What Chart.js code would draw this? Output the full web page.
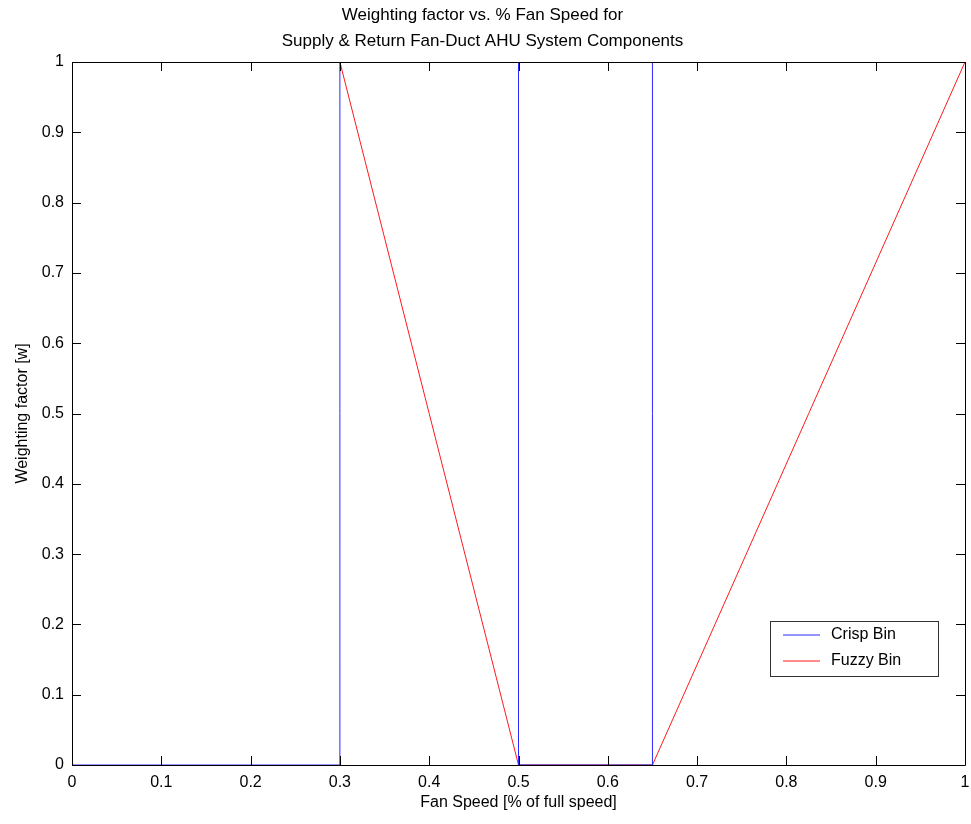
<!DOCTYPE html>
<html>
<head>
<meta charset="utf-8">
<script src="https://cdn.jsdelivr.net/npm/chart.js@4/dist/chart.umd.min.js"></script>
<style>
  html, body { margin: 0; padding: 0; background: #fff; }
  #wrap { width: 971px; height: 824px; }
</style>
</head>
<body>
<div id="wrap"><canvas id="fanChart" width="971" height="824"></canvas></div>
<script>
// Fan speed break points and weights for each bin type
const crispSpeed = [0, 0.3, 0.3, 0.5, 0.5, 0.65, 0.65, 1];
const crispWeight = [0, 0, 1, 1, 0, 0, 1, 1];
const fuzzySpeed = [0.3, 0.5, 0.65, 1];
const fuzzyWeight = [1, 0, 0, 1];
const tickValues = [0, 0.1, 0.2, 0.3, 0.4, 0.5, 0.6, 0.7, 0.8, 0.9, 1];
const seriesNames = ["Crisp Bin", "Fuzzy Bin"];
const seriesColors = ["#2a2aff", "#ff1a1a"];

const FONT = "'Liberation Sans', Arial, sans-serif";

function toPoints(xs, ys) {
  return xs.map((x, i) => ({ x: x, y: ys[i] }));
}

// Box around the axes, inward tick marks and the legend box
const frame = {
  id: "frame",
  afterDatasetsDraw(chart) {
    const ctx = chart.ctx;
    const a = chart.chartArea;
    const xs = chart.scales.x, ys = chart.scales.y;
    ctx.save();
    ctx.strokeStyle = "#000";
    ctx.lineWidth = 1;
    ctx.beginPath();
    ctx.rect(Math.round(a.left) + 0.5, Math.round(a.top) + 0.5,
             Math.round(a.right - a.left), Math.round(a.bottom - a.top));
    ctx.stroke();
    const len = 9;
    ctx.beginPath();
    tickValues.forEach(v => {
      const px = Math.round(xs.getPixelForValue(v)) + 0.5;
      ctx.moveTo(px, a.bottom); ctx.lineTo(px, a.bottom - len);
      ctx.moveTo(px, a.top); ctx.lineTo(px, a.top + len);
      const py = Math.round(ys.getPixelForValue(v)) + 0.5;
      ctx.moveTo(a.left, py); ctx.lineTo(a.left + len, py);
      ctx.moveTo(a.right, py); ctx.lineTo(a.right - len, py);
    });
    ctx.stroke();

    // legend
    const lx = 770, ly = 621, lw = 168, lh = 55;
    ctx.fillStyle = "#fff";
    ctx.fillRect(lx, ly, lw, lh);
    ctx.strokeStyle = "#333";
    ctx.strokeRect(lx + 0.5, ly + 0.5, lw, lh);
    ctx.font = "16px " + FONT;
    ctx.textBaseline = "middle";
    seriesNames.forEach((name, i) => {
      const y = ly + 14 + i * 26;
      ctx.strokeStyle = seriesColors[i];
      ctx.beginPath();
      ctx.moveTo(lx + 13, y); ctx.lineTo(lx + 50, y);
      ctx.stroke();
      ctx.fillStyle = "#000";
      ctx.fillText(name, lx + 61, y);
    });
    ctx.restore();
  }
};

new Chart(document.getElementById("fanChart"), {
  type: "scatter",
  data: {
    datasets: [
      {
        label: seriesNames[0],
        data: toPoints(crispSpeed, crispWeight),
        showLine: true,
        borderColor: seriesColors[0],
        borderWidth: 1,
        pointRadius: 0,
        tension: 0
      },
      {
        label: seriesNames[1],
        data: toPoints(fuzzySpeed, fuzzyWeight),
        showLine: true,
        borderColor: seriesColors[1],
        borderWidth: 1,
        pointRadius: 0,
        tension: 0
      }
    ]
  },
  options: {
    responsive: false,
    animation: false,
    layout: { padding: { left: 0, right: 6, top: 0, bottom: 0 } },
    plugins: {
      legend: { display: false },
      tooltip: { enabled: false },
      title: {
        display: true,
        text: ["Weighting factor vs. % Fan Speed for", "Supply & Return Fan-Duct AHU System Components"],
        color: "#000",
        font: { family: FONT, size: 17, weight: "normal", lineHeight: 1.5 },
        padding: { top: 3, bottom: 8 }
      }
    },
    scales: {
      x: {
        type: "linear",
        min: 0,
        max: 1,
        afterBuildTicks: s => { s.ticks = tickValues.map(v => ({ value: v })); },
        afterFit: s => { s.height = 59; s.paddingLeft = 0; s.paddingRight = 0; },
        grid: { display: false, drawTicks: false },
        border: { display: false },
        ticks: {
          color: "#000",
          padding: 8,
          maxRotation: 0,
          font: { family: FONT, size: 16 },
          callback: v => String(v)
        },
        title: {
          display: true,
          text: "Fan Speed [% of full speed]",
          color: "#000",
          font: { family: FONT, size: 16 },
          padding: { top: 2, bottom: 12 }
        }
      },
      y: {
        type: "linear",
        min: 0,
        max: 1,
        afterBuildTicks: s => { s.ticks = tickValues.map(v => ({ value: v })); },
        afterFit: s => { s.width = 72; s.paddingTop = 0; s.paddingBottom = 0; },
        grid: { display: false, drawTicks: false },
        border: { display: false },
        ticks: {
          color: "#000",
          padding: 8,
          font: { family: FONT, size: 16 },
          callback: v => String(v)
        },
        title: {
          display: true,
          text: "Weighting factor [w]",
          color: "#000",
          font: { family: FONT, size: 16 },
          padding: { top: 13, bottom: 4 }
        }
      }
    }
  },
  plugins: [frame]
});
</script>
</body>
</html>
